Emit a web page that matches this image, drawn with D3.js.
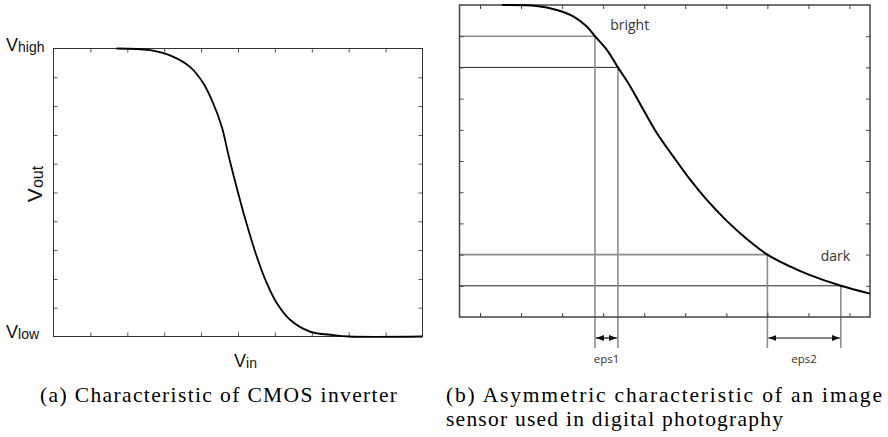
<!doctype html>
<html lang="en">
<head>
  <style>
    body { margin: 0; background: #fff; }
    .lbl { font-family: "Liberation Sans", Arial, sans-serif; fill: #111; }
    .note { font-family: "Open Sans", sans-serif; fill: #333; }
    .caption { font-family: "Liberation Serif", serif; font-size: 21.5px; fill: #000; }
  </style>
  <script src="https://d3js.org/d3.v7.min.js"></script>
</head>
<body>
  <script>
    // (a) CMOS inverter transfer curve, both axes 0..10
    const vinA  = [1.71, 2.62, 3.25, 3.70, 4.06, 4.33, 4.56, 4.76, 5.00, 5.23, 5.51, 5.78, 6.05, 6.41, 6.95, 7.58, 8.0, 10.0];
    const voutA = [10.0, 9.94, 9.71, 9.36, 8.79, 8.09, 7.28, 6.20, 5.00, 3.93, 2.77, 1.85, 1.16, 0.58, 0.17, 0.05, 0.0, 0.0];
    const ticksA = [1, 2, 3, 4, 5, 6, 7, 8, 9];

    // (b) image sensor curve, both axes 0..10
    const inB  = [1.03, 1.88, 2.37, 2.78, 3.10, 3.30, 3.59, 3.86, 4.16, 4.48, 4.81, 5.21, 5.62, 6.02, 6.51, 7.00, 7.50, 8.05, 8.54, 9.29, 10.0];
    const outB = [10.0, 9.97, 9.84, 9.63, 9.31, 9.00, 8.56, 8.00, 7.39, 6.64, 5.89, 5.14, 4.40, 3.76, 3.08, 2.50, 2.00, 1.62, 1.34, 1.00, 0.75];
    const ticksBx = [0.5, 1.5, 2.5, 3.5, 4.5, 5.5, 6.5, 7.5, 8.5, 9.5];
    const ticksBy = [1, 2, 3, 4, 5, 6, 7, 8, 9];

    // reference levels
    const brightIn = [3.30, 3.86], brightOut = [9, 8];
    const darkIn = [7.50, 9.29], darkOut = [2, 1];

    const svg = d3.select("body").append("svg")
        .attr("width", 888)
        .attr("height", 437);

    svg.append("defs").append("marker")
        .attr("id", "arrow")
        .attr("viewBox", "0 0 8 6")
        .attr("refX", 8).attr("refY", 3)
        .attr("markerWidth", 8).attr("markerHeight", 6)
        .attr("markerUnits", "userSpaceOnUse")
        .attr("orient", "auto-start-reverse")
        .append("path")
        .attr("d", "M0,0L8,3L0,6z")
        .attr("fill", "#111");

    function frame(x, y, ticksX, ticksY, col) {
      const sides = [
        [d3.axisBottom(x).tickValues(ticksX), `translate(0,${y.range()[0]})`],
        [d3.axisTop(x).tickValues(ticksX), `translate(0,${y.range()[1]})`],
        [d3.axisLeft(y).tickValues(ticksY), `translate(${x.range()[0]},0)`],
        [d3.axisRight(y).tickValues(ticksY), `translate(${x.range()[1]},0)`]
      ];
      sides.forEach(([ax, tr]) => {
        svg.append("g")
            .attr("transform", tr)
            .call(ax.tickSize(-4).tickFormat(""))
            .call(g => g.select(".domain").remove())
            .selectAll("line").attr("stroke", col);
      });
    }

    const smooth = d3.curveCatmullRom.alpha(0.5);

    // ---------- panel (a)
    const xA = d3.scaleLinear().domain([0, 10]).range([53.5, 422.5]);
    const yA = d3.scaleLinear().domain([0, 10]).range([336.5, 48.5]);

    frame(xA, yA, ticksA, ticksA, "#555");
    svg.append("rect")
        .attr("x", xA(0)).attr("y", yA(10))
        .attr("width", xA(10) - xA(0)).attr("height", yA(0) - yA(10))
        .attr("fill", "none").attr("stroke", "#333");

    svg.append("path")
        .datum(vinA.map((v, i) => [v, voutA[i]]))
        .attr("fill", "none")
        .attr("stroke", "#000")
        .attr("stroke-width", 1.8)
        .attr("d", d3.line().x(d => xA(d[0])).y(d => yA(d[1])).curve(smooth));

    function vlabel(x, y, sub, size, subSize, anchor, transform) {
      const t = svg.append("text").attr("class", "lbl")
          .attr("x", x).attr("y", y)
          .attr("text-anchor", anchor)
          .style("font-size", size + "px");
      if (transform) t.attr("transform", transform);
      t.append("tspan").text("V");
      t.append("tspan").attr("dy", 1).style("font-size", subSize + "px").text(sub);
    }
    vlabel(6, 51, "high", 18, 14, "start");
    vlabel(6, 338, "low", 18, 14, "start");
    vlabel(234, 367, "in", 18, 14, "start");
    vlabel(0, 0, "out", 21, 16, "middle", "translate(42,184) rotate(-90)");

    // ---------- panel (b)
    const xB = d3.scaleLinear().domain([0, 10]).range([459.5, 870]);
    const yB = d3.scaleLinear().domain([0, 10]).range([317, 5]);

    const bottomB = yB(0);
    const guideEnd = bottomB + 31;
    const arrowY = bottomB + 21;

    // horizontal guides from the left edge to the curve
    const levels = [
      { x: brightIn[0], y: brightOut[0], c: "#8c8c8c", w: 1.6 },
      { x: brightIn[1], y: brightOut[1], c: "#222", w: 1 },
      { x: darkIn[0], y: darkOut[0], c: "#8c8c8c", w: 1.6 },
      { x: darkIn[1], y: darkOut[1], c: "#222", w: 1 }
    ];
    svg.selectAll(".hguide").data(levels).enter().append("line")
        .attr("class", "hguide")
        .attr("x1", xB(0)).attr("x2", d => xB(d.x))
        .attr("y1", d => yB(d.y)).attr("y2", d => yB(d.y))
        .attr("stroke", d => d.c).attr("stroke-width", d => d.w);

    svg.selectAll(".vguide").data(levels).enter().append("line")
        .attr("class", "vguide")
        .attr("x1", d => xB(d.x)).attr("x2", d => xB(d.x))
        .attr("y1", d => yB(d.y)).attr("y2", guideEnd)
        .attr("stroke", "#8c8c8c").attr("stroke-width", 1.6);

    frame(xB, yB, ticksBx, ticksBy, "#444");
    svg.append("rect")
        .attr("x", xB(0)).attr("y", yB(10))
        .attr("width", xB(10) - xB(0)).attr("height", yB(0) - yB(10))
        .attr("fill", "none").attr("stroke", "#444").attr("stroke-width", 1.5);

    svg.append("path")
        .datum(inB.map((v, i) => [v, outB[i]]))
        .attr("fill", "none")
        .attr("stroke", "#000")
        .attr("stroke-width", 2)
        .attr("d", d3.line().x(d => xB(d[0])).y(d => yB(d[1])).curve(smooth));

    const spans = [
      { a: brightIn[0], b: brightIn[1], name: "eps1" },
      { a: darkIn[0], b: darkIn[1], name: "eps2" }
    ];
    svg.selectAll(".eps").data(spans).enter().append("line")
        .attr("class", "eps")
        .attr("x1", d => xB(d.a) + 1).attr("x2", d => xB(d.b) - 1)
        .attr("y1", arrowY).attr("y2", arrowY)
        .attr("stroke", "#111").attr("stroke-width", 1.2)
        .attr("marker-start", "url(#arrow)")
        .attr("marker-end", "url(#arrow)");

    svg.selectAll(".epslbl").data(spans).enter().append("text")
        .attr("class", "note")
        .attr("x", d => (xB(d.a) + xB(d.b)) / 2)
        .attr("y", guideEnd + 15)
        .attr("text-anchor", "middle")
        .style("font-size", "11.5px")
        .text(d => d.name);

    svg.append("text").attr("class", "note")
        .attr("x", xB(3.67)).attr("y", yB(9.2))
        .style("font-size", "14px")
        .text("bright");
    svg.append("text").attr("class", "note")
        .attr("x", xB(8.8)).attr("y", yB(1.78))
        .style("font-size", "14px")
        .text("dark");

    // ---------- captions
    svg.append("text").attr("class", "caption")
        .attr("x", 40).attr("y", 402)
        .attr("textLength", 357).attr("lengthAdjust", "spacing")
        .text("(a) Characteristic of CMOS inverter");
    svg.append("text").attr("class", "caption")
        .attr("x", 446).attr("y", 402)
        .attr("textLength", 436).attr("lengthAdjust", "spacing")
        .text("(b) Asymmetric characteristic of an image");
    svg.append("text").attr("class", "caption")
        .attr("x", 446).attr("y", 426)
        .attr("textLength", 337).attr("lengthAdjust", "spacing")
        .text("sensor used in digital photography");
  </script>
</body>
</html>
